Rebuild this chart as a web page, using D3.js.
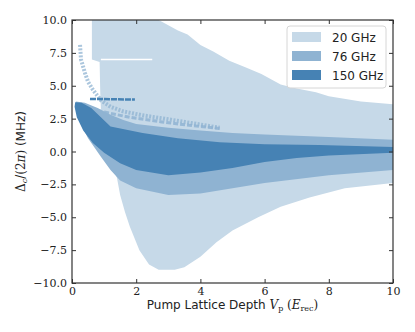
<!DOCTYPE html>
<html>
<head>
<meta charset="utf-8">
<script src="https://cdn.jsdelivr.net/npm/d3@7"></script>
<style>
  body { margin: 0; background: #fff; }
  svg { display: block; }
  .tick text { font-family: "DejaVu Serif", serif; font-size: 11px; fill: #222; }
  .lbl { font-family: "DejaVu Sans", sans-serif; font-size: 12px; fill: #222; }
</style>
</head>
<body>
<svg id="chart" width="415" height="332"></svg>
<script>
// series names / legend
var series = ["20 GHz", "76 GHz", "150 GHz"];
var colors = ["#c6d9e8", "#8fb3d2", "#4682b4"];

// region boundaries, [Vp, Delta]
var upper20 = [[0.62,10],[2.7,10],[3.0,9.6],[3.3,9.2],[3.6,8.9],[4.0,8.1],[4.4,7.6],[4.9,6.9],[5.4,6.4],[5.9,5.9],[6.5,5.1],[7.0,4.8],[7.6,4.5],[8.0,4.2],[9.0,3.8],[10,3.6]];
var lower20 = [[10,-2.4],[8.5,-2.8],[7.4,-3.5],[6.5,-4.2],[5.8,-5.0],[5.0,-6.0],[4.5,-6.9],[4.0,-8.0],[3.5,-8.8],[3.2,-9.0],[2.7,-9.0],[2.4,-8.6],[2.1,-7.5],[1.8,-5.7],[1.65,-4.6],[1.5,-3.3],[1.4,-2.0],[1.3,-1.4],[1.0,-0.5],[0.6,0.8],[0.3,2.0],[0.15,3.4]];
var left20 = [[0.15,3.4],[0.9,3.2],[0.88,4.5],[0.86,6.8],[0.62,7.0]];

var upper76 = [[0.12,3.8],[0.4,3.7],[0.8,3.3],[1.2,2.8],[1.6,2.4],[2.0,2.1],[3.0,1.8],[4.0,1.6],[5.0,1.4],[6.0,1.3],[8.0,1.1],[10,0.9]];
var lower76 = [[10,-1.4],[8,-1.8],[6,-2.4],[5,-2.8],[4,-3.2],[3,-3.3],[2,-2.8],[1.5,-2.2],[1.2,-1.4],[0.9,-0.4],[0.5,1.0],[0.25,2.2],[0.1,3.3]];

var upper150 = [[0.1,3.75],[0.3,3.7],[0.6,3.3],[0.9,2.6],[1.2,1.9],[2.2,1.4],[3.3,1.0],[4.6,0.7],[6,0.55],[7.7,0.5],[10,0.35]];
var lower150 = [[10,-0.1],[8,-0.3],[7,-0.5],[6,-0.8],[5,-1.25],[4,-1.6],[3,-1.8],[2.0,-1.4],[1.5,-0.9],[1.0,-0.1],[0.65,0.65],[0.35,1.6],[0.15,2.6],[0.08,3.4]];

// thin branches outside the main bands
var branch76a = [[0.25,8.1],[0.28,7.0],[0.4,6.0],[0.5,5.3],[0.65,4.7],[0.9,3.9],[1.2,3.4],[1.6,3.05],[2.2,2.75],[3.0,2.45],[4.0,2.05],[4.6,1.8]];
var branch76b = [[1.0,3.0],[1.8,2.6],[2.8,2.25],[3.8,1.95],[4.6,1.75]];
var branch150 = [[0.56,4.0],[1.96,3.95]];
var gap20 = [[0.9,7.0],[2.5,7.0]];

var xTicks = [0, 2, 4, 6, 8, 10];
var yTicks = [-10, -7.5, -5, -2.5, 0, 2.5, 5, 7.5, 10];

var svg = d3.select("#chart"),
    margin = {top: 20, right: 22, bottom: 49, left: 72},
    width = +svg.attr("width") - margin.left - margin.right,
    height = +svg.attr("height") - margin.top - margin.bottom,
    g = svg.append("g").attr("transform", "translate(" + margin.left + "," + margin.top + ")");

var x = d3.scaleLinear().domain([0, 10]).range([0, width]);
var y = d3.scaleLinear().domain([-10, 10]).range([height, 0]);

g.append("clipPath").attr("id", "clip")
  .append("rect").attr("width", width).attr("height", height);

var line = d3.line()
    .x(function(d) { return x(d[0]); })
    .y(function(d) { return y(d[1]); });

var plot = g.append("g").attr("clip-path", "url(#clip)");

plot.append("path")
    .attr("d", line(upper20.concat(lower20, left20)) + "Z")
    .attr("fill", colors[0]);
plot.append("path")
    .attr("d", line(gap20))
    .attr("stroke", "#fff").attr("stroke-width", 1.5).attr("fill", "none");

plot.append("path")
    .attr("d", line(branch76a))
    .attr("stroke", colors[1]).attr("stroke-width", 4).attr("stroke-opacity", 0.75)
    .attr("stroke-dasharray", "2,1.5").attr("fill", "none");
plot.append("path")
    .attr("d", line(branch76b))
    .attr("stroke", colors[1]).attr("stroke-width", 3).attr("stroke-opacity", 0.85)
    .attr("stroke-dasharray", "5,2").attr("fill", "none");

plot.append("path")
    .attr("d", line(upper76.concat(lower76)) + "Z")
    .attr("fill", colors[1]);

plot.append("path")
    .attr("d", line(upper150.concat(lower150)) + "Z")
    .attr("fill", colors[2]);
plot.append("path")
    .attr("d", line(branch150))
    .attr("stroke", colors[2]).attr("stroke-width", 2.5)
    .attr("stroke-dasharray", "6,1").attr("fill", "none");

// axes, ticks pointing in, on all four sides
function styleAxis(sel) {
  sel.select(".domain").remove();
  sel.selectAll(".tick line").attr("stroke", "#333").attr("stroke-width", 1);
}
g.append("g")
    .attr("transform", "translate(0," + height + ")")
    .call(d3.axisBottom(x).tickValues(xTicks).tickSizeInner(-4).tickPadding(4).tickFormat(d3.format("d")))
    .call(styleAxis);
g.append("g")
    .call(d3.axisTop(x).tickValues(xTicks).tickSizeInner(-4).tickFormat(""))
    .call(styleAxis);
g.append("g")
    .call(d3.axisLeft(y).tickValues(yTicks).tickSizeInner(-4).tickPadding(5).tickFormat(d3.format(".1f")))
    .call(styleAxis);
g.append("g")
    .attr("transform", "translate(" + width + ",0)")
    .call(d3.axisRight(y).tickValues(yTicks).tickSizeInner(-4).tickFormat(""))
    .call(styleAxis);

g.append("rect")
    .attr("width", width).attr("height", height)
    .attr("fill", "none").attr("stroke", "#333").attr("stroke-width", 1.2);

// x label
var xl = svg.append("text").attr("class", "lbl")
    .attr("x", margin.left + width / 2).attr("y", 309)
    .attr("text-anchor", "middle");
xl.append("tspan").text("Pump Lattice Depth ");
xl.append("tspan").attr("font-family", "DejaVu Serif").attr("font-style", "italic").text("V");
xl.append("tspan").attr("font-family", "DejaVu Serif").attr("font-size", 8).attr("dy", 2).text("p");
xl.append("tspan").attr("font-family", "DejaVu Serif").attr("dy", -2).text(" (");
xl.append("tspan").attr("font-family", "DejaVu Serif").attr("font-style", "italic").text("E");
xl.append("tspan").attr("font-family", "DejaVu Serif").attr("font-size", 8).attr("dy", 2).text("rec");
xl.append("tspan").attr("font-family", "DejaVu Serif").attr("dy", -2).text(")");

// y label
var yl = svg.append("text").attr("class", "lbl")
    .attr("transform", "translate(25," + (margin.top + height / 2) + ") rotate(-90)")
    .attr("text-anchor", "middle");
yl.append("tspan").attr("font-family", "DejaVu Serif").text("Δ");
yl.append("tspan").attr("font-family", "DejaVu Serif").attr("font-style", "italic").attr("font-size", 8).attr("dy", 2).text("c");
yl.append("tspan").attr("font-family", "DejaVu Serif").attr("dy", -2).text("/(2");
yl.append("tspan").attr("font-family", "DejaVu Serif").attr("font-style", "italic").text("π");
yl.append("tspan").attr("font-family", "DejaVu Serif").text(")");
yl.append("tspan").text(" (MHz)");

// legend
var legend = svg.append("g").attr("transform", "translate(287,26)");
legend.append("rect")
    .attr("width", 99).attr("height", 62).attr("rx", 3)
    .attr("fill", "#fff").attr("fill-opacity", 0.8)
    .attr("stroke", "#d6d6d6").attr("stroke-width", 1);
var items = legend.selectAll("g.item")
    .data(series)
    .enter().append("g")
      .attr("class", "item")
      .attr("transform", function(d, i) { return "translate(0," + (6 + i * 19) + ")"; });
items.append("rect")
    .attr("x", 5).attr("width", 29).attr("height", 10)
    .attr("fill", function(d, i) { return colors[i]; });
items.append("text")
    .attr("x", 45).attr("y", 10)
    .attr("font-family", "DejaVu Sans, sans-serif").attr("font-size", 12)
    .attr("fill", "#222")
    .text(function(d) { return d; });
</script>
</body>
</html>
